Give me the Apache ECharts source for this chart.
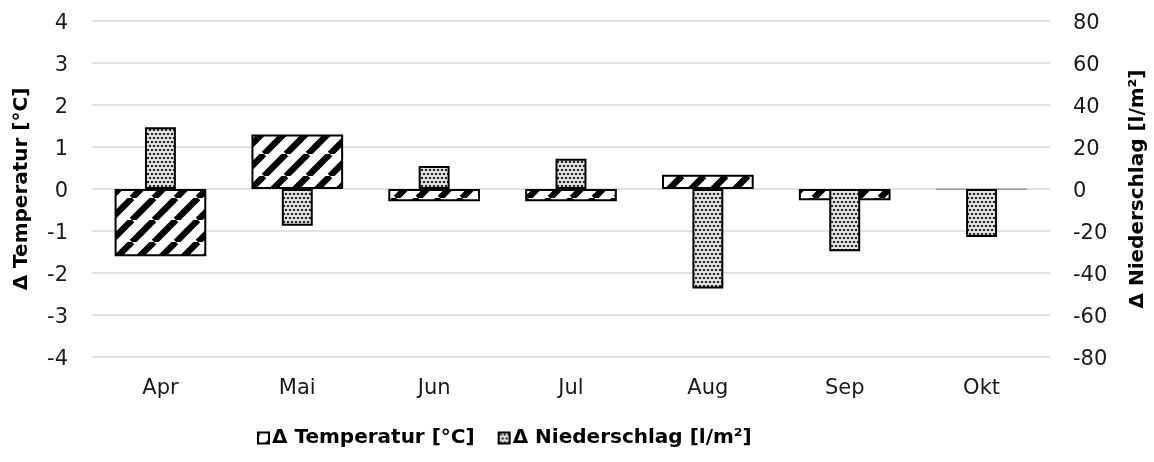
<!DOCTYPE html>
<html><head><meta charset="utf-8">
<script src="https://cdn.jsdelivr.net/npm/echarts@6/dist/echarts.min.js"></script>
<style>html,body{margin:0;padding:0;background:#fff}#c{width:1154px;height:462px}</style>
</head><body><div id="c"></div>
<script>
const months = ['Apr', 'Mai', 'Jun', 'Jul', 'Aug', 'Sep', 'Okt'];
const tempDelta = [-1.6, 1.3, -0.29, -0.29, 0.34, -0.27, -0.01];
const precipDelta = [29.4, -17.5, 10.9, 14.4, -47.4, -29.6, -22.9];
const tempAxisName = 'Δ Temperatur [°C]';
const precipAxisName = 'Δ Niederschlag [l/m²]';

function stripeTile() {
  const s = 22, c = document.createElement('canvas');
  c.width = s; c.height = s;
  const g = c.getContext('2d');
  g.fillStyle = '#fff'; g.fillRect(0, 0, s, s);
  g.strokeStyle = '#000'; g.lineWidth = 6.5;
  for (const k of [-1, 0, 1]) {
    g.beginPath(); g.moveTo(k * s, s); g.lineTo(k * s + s, 0); g.stroke();
  }
  return c;
}
function dotTile() {
  const s = 8, c = document.createElement('canvas');
  c.width = s; c.height = s;
  const g = c.getContext('2d');
  g.fillStyle = '#ececec'; g.fillRect(0, 0, s, s);
  g.fillStyle = '#2a2a2a';
  for (const [x, y] of [[2, 2], [6, 2], [0, 6], [4, 6], [8, 6]]) {
    g.beginPath(); g.arc(x, y, 1.3, 0, Math.PI * 2); g.fill();
  }
  return c;
}

const FONT = 'DejaVu Sans';
const tickColor = '#1a1a1a';
const yLabel = (margin) => ({
  margin, formatter: '{a|{value}}',
  rich: { a: { color: tickColor, fontSize: 21, fontFamily: FONT, padding: [5, 0, 0, 0] } }
});
const chart = echarts.init(document.getElementById('c'), null, { renderer: 'canvas' });
chart.setOption({
  animation: false,
  backgroundColor: '#fff',
  textStyle: { fontFamily: FONT },
  grid: { left: 92, right: 104, top: 21, bottom: 105, containLabel: false, outerBoundsMode: 'none' },
  legend: {
    bottom: 9, left: 252, itemWidth: 11, itemHeight: 11, itemGap: 23, icon: 'rect',
    textStyle: { fontFamily: FONT, fontSize: 20, fontWeight: 'bold', color: '#000', padding: [0, 0, 0, -2] },
    data: [tempAxisName, precipAxisName]
  },
  xAxis: [
    { type: 'category', data: months, axisLine: { show: false }, axisTick: { show: false },
      axisLabel: { color: tickColor, fontSize: 21, margin: 21, fontFamily: FONT } },
    { type: 'category', data: months, show: false }
  ],
  yAxis: [
    { type: 'value', min: -4, max: 4, interval: 1, position: 'left',
      name: tempAxisName, nameLocation: 'middle', nameGap: 60,
      nameTextStyle: { fontSize: 20, fontWeight: 'bold', color: '#000', fontFamily: FONT },
      axisLine: { show: false }, axisTick: { show: false },
      axisLabel: yLabel(24),
      splitLine: { lineStyle: { color: '#d9d9d9', width: 1.5 } } },
    { type: 'value', min: -80, max: 80, interval: 20, position: 'right',
      name: precipAxisName, nameLocation: 'middle', nameGap: 78,
      nameTextStyle: { fontSize: 20, fontWeight: 'bold', color: '#000', fontFamily: FONT },
      axisLine: { show: false }, axisTick: { show: false },
      axisLabel: yLabel(23),
      splitLine: { show: false } }
  ],
  series: [
    { name: tempAxisName, type: 'bar', xAxisIndex: 0, yAxisIndex: 0,
      data: tempDelta.map(v => Math.abs(v) < 0.05
        ? { value: v, itemStyle: { borderColor: '#9a9a9a', borderWidth: 1 } } : v),
      barWidth: '67%', z: 2,
      itemStyle: { color: { image: stripeTile(), repeat: 'repeat' }, borderColor: '#000', borderWidth: 2 } },
    { name: precipAxisName, type: 'bar', xAxisIndex: 1, yAxisIndex: 1, data: precipDelta,
      barWidth: '22.6%', z: 3,
      itemStyle: { color: { image: dotTile(), repeat: 'repeat' }, borderColor: '#000', borderWidth: 2 } }
  ]
});
</script></body></html>
